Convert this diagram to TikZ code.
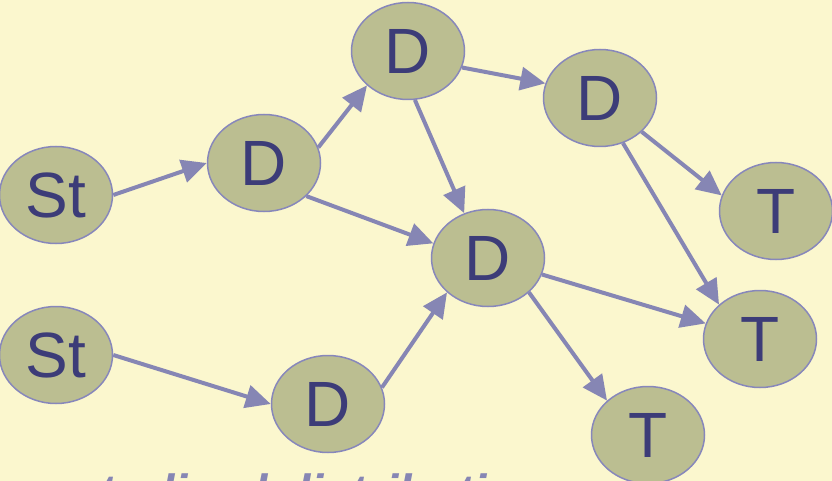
\documentclass[tikz,border=0pt]{standalone}
\usepackage{fontspec}
\setmainfont{Liberation Sans}
\usetikzlibrary{shapes.geometric,arrows.meta}
\definecolor{paper}{RGB}{251,247,206}
\definecolor{moss}{RGB}{187,190,145}
\definecolor{rim}{RGB}{135,135,187}
\definecolor{ink}{RGB}{60,60,120}
\definecolor{link}{RGB}{134,134,180}

\begin{document}
\begin{tikzpicture}[x=1pt,y=-1pt,
            BLOB/.style={ellipse, draw=rim, line width=1.5pt, fill=moss, minimum width=113pt, minimum height=97pt, inner sep=0pt, text=ink, font=\fontsize{64}{64}\selectfont},
            FLOW/.style={draw=link, line width=4pt, -{Triangle[length=25pt,width=23pt]}},
            NOTE/.style={text=link, font=\fontsize{48}{48}\selectfont\bfseries\itshape, inner sep=0pt},
        ]
        \clip (0,0) rectangle (832,481);
        \fill[paper] (0,0) rectangle (832,481);

        % sources
        \node[BLOB] (Start_A) at (56,195) {St};
        \node[BLOB] (Start_B) at (56,355) {St};

        % distributors
        \node[BLOB] (Dist_1) at (264,163) {D};
        \node[BLOB] (Dist_2) at (408,51)  {D};
        \node[BLOB] (Dist_3) at (600,98)  {D};
        \node[BLOB] (Dist_4) at (488,258) {D};
        \node[BLOB] (Dist_5) at (328,404) {D};

        % targets
        \node[BLOB] (Term_1) at (776,211) {T};
        \node[BLOB] (Term_2) at (760,339) {T};
        \node[BLOB] (Term_3) at (648,435) {T};

        \draw[FLOW] (Start_A.east) -- (Dist_1.west);
        \draw[FLOW] (Start_B.east) -- (Dist_5.west);
        \draw[FLOW] (Dist_1.16)  -- (Dist_2.220);
        \draw[FLOW] (Dist_1.322) -- (Dist_4.165);
        \draw[FLOW] (Dist_2.343) -- (Dist_3.165);
        \draw[FLOW] (Dist_2.278) -- (Dist_4.118);
        \draw[FLOW] (Dist_5.17)  -- (Dist_4.220);
        \draw[FLOW] (Dist_3.321) -- (Term_1.164);
        \draw[FLOW] (Dist_3.297) -- (Term_2.140);
        \draw[FLOW] (Dist_4.343) -- (Term_2.164);
        \draw[FLOW] (Dist_4.320) -- (Term_3.140);

        \node[NOTE, anchor=base west] (Caption) at (17,508) {centralized distribution};

    \end{tikzpicture}
\end{document}
